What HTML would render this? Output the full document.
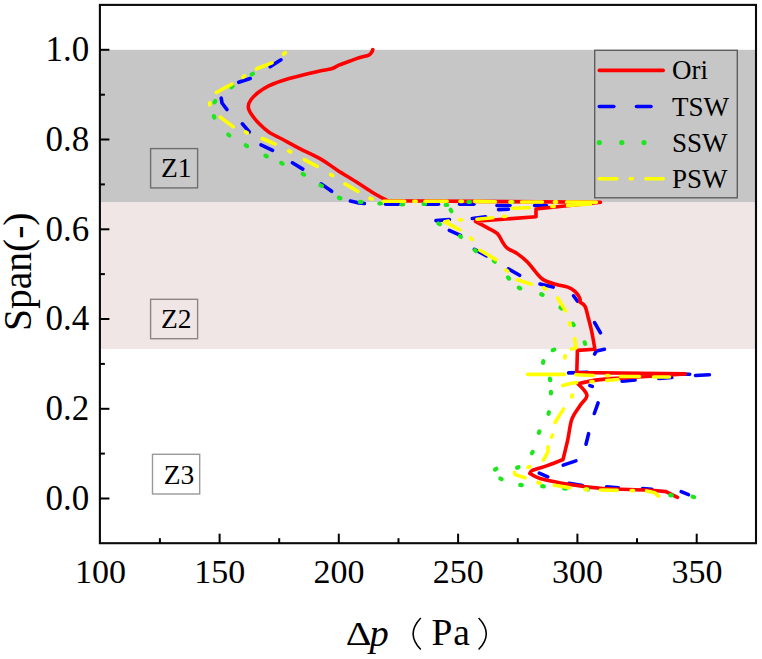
<!DOCTYPE html>
<html><head><meta charset="utf-8"><title>Chart</title>
<style>
html,body{margin:0;padding:0;background:#fff;}
body{width:762px;height:659px;overflow:hidden;font-family:"Liberation Serif",serif;}
svg{display:block}
.s{font-family:"Liberation Serif",serif;fill:#000}
</style></head><body>
<svg width="762" height="659" viewBox="0 0 762 659">
<rect width="762" height="659" fill="#fff"/>
<rect x="99.9" y="49.8" width="656.1" height="152.6" fill="#c6c6c6"/>
<rect x="99.9" y="202.4" width="656.1" height="146.7" fill="#efe6e5"/>
<rect x="150.6" y="148.6" width="47" height="39.3" fill="#c8c8c8" stroke="#6e6e6e" stroke-width="1.4"/>
<text x="161" y="177.3" font-size="27.5" class="s">Z1</text>
<rect x="150.6" y="299.3" width="47" height="39.4" fill="#efe6e5" stroke="#8f8585" stroke-width="1.4"/>
<text x="161" y="328" font-size="27.5" class="s">Z2</text>
<rect x="152.5" y="454.3" width="47.2" height="39.7" fill="#fff" stroke="#999" stroke-width="1.4"/>
<text x="163.8" y="483.8" font-size="27.5" class="s">Z3</text>
<g fill="none" stroke-width="3.6" stroke-linejoin="round" stroke-linecap="round">
<g stroke="#0000ff">
<polyline points="281.0,59.8 270.1,66.7"/>
<polyline points="250.2,78.5 238.7,82.3"/>
<polyline points="221.2,98.0 222.0,103.0 227.0,109.6"/>
<polyline points="242.3,123.8 249.3,131.9"/>
<polyline points="261.0,144.8 272.6,150.3"/>
<polyline points="292.4,162.8 302.8,169.1"/>
<polyline points="321.2,183.9 331.7,191.3"/>
<polyline points="350.4,201.1 357.0,202.6 364.4,203.5"/>
<polyline points="385.6,204.3 398.4,204.3"/>
<polyline points="424.6,204.3 438.4,204.3"/>
<polyline points="459.6,204.3 473.9,204.3"/>
<polyline points="497.0,205.5 510.0,205.5"/>
<polyline points="534.6,205.5 546.4,205.5"/>
<polyline points="508.4,209.3 498.6,209.6"/>
<polyline points="485.6,216.8 472.3,218.5"/>
<polyline points="449.4,219.5 436.0,220.6"/>
<polyline points="449.3,230.3 460.5,235.4"/>
<polyline points="474.4,249.3 486.6,255.8"/>
<polyline points="508.3,268.8 519.6,275.3"/>
<polyline points="540.0,284.1 553.2,287.1"/>
<polyline points="573.5,295.8 577.5,301.2"/>
<polyline points="594.6,322.6 600.5,332.8"/>
<polyline points="604.4,349.3 596.5,350.9 594.6,354.0"/>
<polyline points="568.6,372.9 587.6,372.4"/>
<polyline points="677.6,374.0 689.7,374.3"/>
<polyline points="695.5,375.5 709.4,374.8"/>
<polyline points="671.8,377.5 658.8,378.5"/>
<polyline points="635.1,380.0 622.1,381.2"/>
<polyline points="589.9,385.6 592.3,386.4"/>
<polyline points="598.1,402.9 594.3,413.5"/>
<polyline points="588.6,433.7 586.0,444.2"/>
<polyline points="575.9,460.9 563.2,465.1"/>
<polyline points="539.3,473.2 547.8,476.9"/>
<polyline points="568.9,483.3 582.4,485.5"/>
<polyline points="606.6,486.9 618.4,487.8"/>
<polyline points="642.6,488.6 651.8,489.2"/>
<polyline points="681.2,491.6 688.5,494.6"/>
</g>
<path d="M372.8,49.6 C372.8,49.6 372.1,51.6 371.5,52.5 C370.9,53.4 370.3,54.5 368.9,55.1 C366.8,56.0 362.2,56.7 359.0,57.7 C355.8,58.7 353.2,59.8 349.9,61.0 C346.6,62.2 342.5,63.6 339.4,64.9 C336.3,66.2 334.8,67.7 331.5,68.7 C328.2,69.7 324.4,69.9 319.7,70.9 C314.4,72.1 306.3,74.1 300.0,75.7 C293.7,77.3 287.1,79.0 281.9,80.7 C276.7,82.4 272.6,83.9 268.7,85.9 C264.8,87.9 261.2,90.2 258.2,92.5 C255.2,94.8 252.6,97.4 250.9,99.8 C249.2,102.2 248.2,104.4 248.3,106.9 C248.4,109.4 249.8,112.0 251.7,114.8 C253.6,117.6 256.7,121.2 259.5,124.0 C262.3,126.8 265.0,129.4 268.7,131.9 C272.4,134.4 276.6,136.2 281.9,139.0 C287.1,141.8 293.6,145.5 300.2,148.9 C306.8,152.3 315.1,155.9 321.2,159.4 C327.3,162.9 330.9,166.0 337.0,169.9 C343.1,173.8 351.4,178.8 358.0,183.0 C364.6,187.2 371.4,191.8 376.4,194.8 C380.9,197.5 388.0,200.8 388.0,200.8 C388.0,200.8 600.5,202.3 600.5,202.3 C600.5,202.3 536.0,209.0 536.0,209.0 C536.0,209.0 536.0,216.8 536.0,216.8 C536.0,216.8 475.4,221.3 475.4,221.3 C475.4,221.3 484.3,226.1 488.0,228.1 C491.7,230.1 495.0,231.4 497.4,233.6 C499.8,235.8 500.6,239.1 502.2,241.5 C503.8,243.9 504.4,245.8 506.9,247.8 C509.5,249.9 514.5,251.7 517.9,254.1 C521.3,256.5 524.5,259.1 527.4,262.0 C530.3,264.9 532.6,268.5 535.2,271.4 C537.8,274.3 539.8,277.5 543.2,279.6 C546.6,281.8 551.4,283.1 555.5,284.3 C559.6,285.6 564.6,286.0 567.8,287.1 C570.8,288.2 572.7,289.5 574.6,291.2 C576.5,292.9 578.5,295.5 579.4,297.3 C580.3,299.0 580.1,302.1 580.1,302.1 C580.1,302.1 583.7,304.0 584.9,306.2 C586.3,308.8 587.2,313.6 588.3,317.8 C589.4,322.0 590.6,326.3 591.7,331.5 C592.8,336.7 594.9,349.2 594.9,349.2 C594.9,349.2 577.4,350.4 577.4,350.4 C577.4,350.4 576.8,372.5 576.8,372.5 C576.8,372.5 685.3,373.9 685.3,373.9 C685.3,373.9 617.9,378.0 600.0,379.6 C591.1,380.4 578.0,383.8 578.0,383.8 C578.0,383.8 586.5,391.6 586.9,395.2 C587.2,398.8 582.6,401.5 580.1,405.5 C577.6,409.5 574.0,413.5 571.9,419.2 C569.8,424.9 569.3,432.9 567.8,439.6 C566.3,446.3 563.0,459.5 563.0,459.5 C563.0,459.5 552.4,463.8 547.3,465.6 C542.2,467.4 535.2,469.1 532.3,470.4 C530.8,471.1 529.8,473.5 529.8,473.5 C529.8,473.5 535.6,477.2 540.0,478.4 C547.0,480.3 561.0,483.0 571.5,484.7 C582.0,486.4 590.8,487.6 603.0,488.5 C615.2,489.4 634.5,489.5 645.0,490.0 C653.4,490.4 666.0,491.6 666.0,491.6 C666.0,491.6 677.5,497.3 677.5,497.3" stroke="#ff0000"/>
</g>
<g fill="none" stroke="#1ee61e" stroke-width="4.2" stroke-linecap="round">
<line x1="252.9" y1="73.7" x2="251.5" y2="74.5"/>
<line x1="232.6" y1="86.2" x2="231.4" y2="87.2"/>
<line x1="215.3" y1="101.0" x2="214.5" y2="102.4"/>
<line x1="213.8" y1="116.2" x2="214.4" y2="117.6"/>
<line x1="228.2" y1="134.5" x2="229.4" y2="135.5"/>
<line x1="245.7" y1="145.3" x2="247.1" y2="146.1"/>
<line x1="265.4" y1="155.6" x2="266.8" y2="156.4"/>
<line x1="281.2" y1="162.9" x2="282.6" y2="163.7"/>
<line x1="302.7" y1="173.9" x2="304.1" y2="174.7"/>
<line x1="320.5" y1="185.2" x2="321.9" y2="186.0"/>
<line x1="338.9" y1="197.7" x2="340.3" y2="198.3"/>
<line x1="359.8" y1="201.8" x2="361.4" y2="202.0"/>
<line x1="379.4" y1="203.5" x2="381.0" y2="203.5"/>
<line x1="401.5" y1="204.5" x2="403.1" y2="204.5"/>
<line x1="423.5" y1="204.0" x2="425.1" y2="204.0"/>
<line x1="445.6" y1="205.0" x2="447.2" y2="205.0"/>
<line x1="450.6" y1="209.8" x2="451.4" y2="211.2"/>
<line x1="468.4" y1="202.0" x2="470.0" y2="202.0"/>
<line x1="511.2" y1="202.0" x2="512.8" y2="202.0"/>
<line x1="438.5" y1="223.5" x2="439.9" y2="224.3"/>
<line x1="459.8" y1="236.0" x2="461.0" y2="237.0"/>
<line x1="474.8" y1="250.1" x2="476.0" y2="251.1"/>
<line x1="493.7" y1="260.7" x2="494.9" y2="261.7"/>
<line x1="508.0" y1="277.4" x2="509.0" y2="278.6"/>
<line x1="518.8" y1="287.6" x2="520.2" y2="288.4"/>
<line x1="541.2" y1="294.3" x2="542.6" y2="294.9"/>
<line x1="560.4" y1="307.4" x2="561.6" y2="308.6"/>
<line x1="572.8" y1="323.7" x2="573.8" y2="325.1"/>
<line x1="584.6" y1="342.3" x2="585.2" y2="343.9"/>
<line x1="554.3" y1="349.6" x2="552.7" y2="350.2"/>
<line x1="543.3" y1="361.2" x2="543.1" y2="362.8"/>
<line x1="549.8" y1="378.6" x2="550.2" y2="380.2"/>
<line x1="550.9" y1="391.8" x2="550.9" y2="393.4"/>
<line x1="548.9" y1="412.2" x2="548.5" y2="413.8"/>
<line x1="539.4" y1="431.4" x2="538.8" y2="432.8"/>
<line x1="532.7" y1="451.9" x2="531.9" y2="453.3"/>
<line x1="518.5" y1="467.1" x2="517.1" y2="467.7"/>
<line x1="496.4" y1="468.8" x2="495.0" y2="469.6"/>
<line x1="500.3" y1="478.5" x2="501.7" y2="479.3"/>
<line x1="520.2" y1="484.9" x2="521.8" y2="485.1"/>
<line x1="542.2" y1="486.2" x2="543.8" y2="486.4"/>
<line x1="564.2" y1="488.4" x2="565.8" y2="488.6"/>
<line x1="586.2" y1="489.2" x2="587.8" y2="489.4"/>
<line x1="670.2" y1="495.1" x2="671.8" y2="495.3"/>
<line x1="692.5" y1="496.6" x2="694.1" y2="497.2"/>
</g>
<g fill="none" stroke-width="3.6" stroke-linejoin="round" stroke-linecap="round" stroke="#ffff00">
<polyline points="272.0,62.9 256.6,68.8"/>
<polyline points="231.9,84.1 216.3,92.5"/>
<polyline points="220.2,117.1 233.3,126.9"/>
<polyline points="262.4,138.5 275.1,144.2"/>
<polyline points="304.3,159.6 317.2,166.4"/>
<polyline points="344.9,183.8 357.9,191.4"/>
<polyline points="383.4,201.3 404.6,201.3"/>
<polyline points="425.1,201.3 447.1,201.3"/>
<polyline points="474.6,201.4 495.4,201.8"/>
<polyline points="521.6,202.0 542.4,202.0"/>
<polyline points="566.6,202.0 596.4,202.3"/>
<polyline points="590.4,203.9 567.6,205.5"/>
<polyline points="529.4,207.7 512.3,208.3"/>
<polyline points="492.7,217.8 477.0,219.2"/>
<polyline points="448.4,221.1 444.7,221.8 459.8,229.8"/>
<polyline points="479.9,250.2 496.0,259.6"/>
<polyline points="517.1,279.8 531.5,284.3"/>
<polyline points="557.7,298.0 561.0,303.5 565.6,310.9"/>
<polyline points="574.8,338.5 576.0,347.9 571.4,349.1"/>
<polyline points="527.6,374.4 564.4,374.4"/>
<polyline points="575.6,374.7 593.4,375.5"/>
<polyline points="620.4,376.5 639.4,376.5"/>
<polyline points="653.6,377.0 669.4,377.0"/>
<polyline points="618.0,379.5 606.6,380.5"/>
<polyline points="576.6,382.5 570.0,383.5 562.7,385.6"/>
<polyline points="563.6,408.9 555.0,422.5"/>
<polyline points="548.0,446.7 548.0,451.9 543.3,460.1"/>
<polyline points="514.6,472.3 515.0,474.6 525.0,477.8"/>
<polyline points="554.2,485.2 569.9,487.7"/>
<polyline points="600.4,490.0 617.2,490.4"/>
<polyline points="646.6,490.9 654.5,492.7 658.5,496.2"/>
</g>
<g fill="none" stroke="#ffff00" stroke-width="3.8" stroke-linecap="round">
<line x1="283.7" y1="54.0" x2="285.3" y2="52.8"/>
<line x1="244.6" y1="76.1" x2="243.0" y2="77.3"/>
<line x1="209.7" y1="102.8" x2="209.7" y2="104.8"/>
<line x1="245.5" y1="131.9" x2="247.3" y2="132.9"/>
<line x1="288.8" y1="151.1" x2="290.6" y2="151.9"/>
<line x1="330.8" y1="174.6" x2="332.6" y2="175.6"/>
<line x1="370.1" y1="198.4" x2="372.1" y2="199.0"/>
<line x1="414.0" y1="201.3" x2="416.0" y2="201.3"/>
<line x1="460.2" y1="201.3" x2="462.2" y2="201.3"/>
<line x1="510.0" y1="202.0" x2="512.0" y2="202.0"/>
<line x1="554.5" y1="202.0" x2="556.5" y2="202.0"/>
<line x1="552.0" y1="206.4" x2="554.0" y2="206.4"/>
<line x1="503.5" y1="216.3" x2="505.5" y2="216.3"/>
<line x1="459.4" y1="219.8" x2="461.4" y2="219.8"/>
<line x1="470.8" y1="238.1" x2="472.2" y2="239.5"/>
<line x1="506.1" y1="270.0" x2="507.7" y2="271.2"/>
<line x1="543.8" y1="287.8" x2="545.4" y2="289.0"/>
<line x1="569.6" y1="323.0" x2="570.2" y2="325.0"/>
<line x1="565.2" y1="355.8" x2="564.8" y2="357.8"/>
<line x1="606.7" y1="375.6" x2="608.7" y2="375.6"/>
<line x1="591.0" y1="381.6" x2="593.0" y2="381.6"/>
<line x1="572.3" y1="395.1" x2="571.7" y2="396.9"/>
<line x1="552.6" y1="435.3" x2="551.6" y2="437.1"/>
<line x1="529.8" y1="466.7" x2="528.0" y2="467.3"/>
<line x1="538.1" y1="482.5" x2="539.9" y2="483.1"/>
<line x1="585.2" y1="489.5" x2="587.2" y2="489.5"/>
<line x1="631.4" y1="490.6" x2="633.4" y2="490.6"/>
</g>
<rect x="594.7" y="50.3" width="142.6" height="147.5" fill="#c6c6c6" stroke="#5e5e5e" stroke-width="1.4"/>
<g fill="none" stroke-width="3.6" stroke-linecap="round">
<line x1="599.3" y1="70.4" x2="663.2" y2="70.4" stroke="#ff0000"/>
<line x1="599.3" y1="106.5" x2="613.8" y2="106.5" stroke="#0000ff"/>
<line x1="636.5" y1="106.5" x2="651" y2="106.5" stroke="#0000ff"/>
<line x1="599.3" y1="178.7" x2="616.9" y2="178.7" stroke="#ffff00"/>
<line x1="630.3" y1="178.7" x2="632.4" y2="178.7" stroke="#ffff00"/>
<line x1="645.8" y1="178.7" x2="663.2" y2="178.7" stroke="#ffff00"/>
</g>
<circle cx="599.3" cy="142.6" r="2.6" fill="#1ee61e"/>
<circle cx="621.8" cy="142.6" r="2.6" fill="#1ee61e"/>
<circle cx="644" cy="142.6" r="2.6" fill="#1ee61e"/>
<text x="672" y="79.2" font-size="27" class="s">Ori</text>
<text x="672" y="116" font-size="27" class="s">TSW</text>
<text x="672" y="152.2" font-size="27" class="s">SSW</text>
<text x="672" y="188.3" font-size="27" class="s">PSW</text>
<rect x="99.9" y="4.9" width="656.1" height="538.3" fill="none" stroke="#0a0a0a" stroke-width="2.1"/>
<g stroke="#000" stroke-width="2">
<line x1="159.9" y1="543.2" x2="159.9" y2="538.2"/>
<line x1="219.6" y1="543.2" x2="219.6" y2="533.7"/>
<line x1="279.2" y1="543.2" x2="279.2" y2="538.2"/>
<line x1="338.8" y1="543.2" x2="338.8" y2="533.7"/>
<line x1="398.5" y1="543.2" x2="398.5" y2="538.2"/>
<line x1="458.1" y1="543.2" x2="458.1" y2="533.7"/>
<line x1="517.8" y1="543.2" x2="517.8" y2="538.2"/>
<line x1="577.4" y1="543.2" x2="577.4" y2="533.7"/>
<line x1="637.0" y1="543.2" x2="637.0" y2="538.2"/>
<line x1="696.7" y1="543.2" x2="696.7" y2="533.7"/>
<line x1="99.9" y1="498.5" x2="109.4" y2="498.5"/>
<line x1="99.9" y1="453.6" x2="104.9" y2="453.6"/>
<line x1="99.9" y1="408.8" x2="109.4" y2="408.8"/>
<line x1="99.9" y1="363.9" x2="104.9" y2="363.9"/>
<line x1="99.9" y1="319.0" x2="109.4" y2="319.0"/>
<line x1="99.9" y1="274.1" x2="104.9" y2="274.1"/>
<line x1="99.9" y1="229.3" x2="109.4" y2="229.3"/>
<line x1="99.9" y1="184.4" x2="104.9" y2="184.4"/>
<line x1="99.9" y1="139.5" x2="109.4" y2="139.5"/>
<line x1="99.9" y1="94.7" x2="104.9" y2="94.7"/>
<line x1="99.9" y1="49.8" x2="109.4" y2="49.8"/>
</g>
<text x="100.5" y="582.7" font-size="34" text-anchor="middle" class="s">100</text>
<text x="219.8" y="582.7" font-size="34" text-anchor="middle" class="s">150</text>
<text x="339.0" y="582.7" font-size="34" text-anchor="middle" class="s">200</text>
<text x="458.3" y="582.7" font-size="34" text-anchor="middle" class="s">250</text>
<text x="577.6" y="582.7" font-size="34" text-anchor="middle" class="s">300</text>
<text x="696.9" y="582.7" font-size="34" text-anchor="middle" class="s">350</text>
<text x="89.3" y="509.8" font-size="35" text-anchor="end" class="s">0.0</text>
<text x="89.3" y="420.1" font-size="35" text-anchor="end" class="s">0.2</text>
<text x="89.3" y="330.3" font-size="35" text-anchor="end" class="s">0.4</text>
<text x="89.3" y="240.6" font-size="35" text-anchor="end" class="s">0.6</text>
<text x="89.3" y="150.8" font-size="35" text-anchor="end" class="s">0.8</text>
<text x="89.3" y="61.1" font-size="35" text-anchor="end" class="s">1.0</text>
<text transform="translate(30.5,331) rotate(-90)" font-size="39.5" class="s">Span(-)</text>
<text transform="translate(345.8,645.4) scale(1.08,0.93)" font-size="37" class="s">Δ</text>
<text x="369.4" y="645.6" font-size="38.5" font-style="italic" class="s">p</text>
<text x="431.6" y="645.4" font-size="37.5" letter-spacing="0.8" class="s">Pa</text>
<path d="M420.8,618 Q405.5,633.8 420.8,649.6" fill="none" stroke="#000" stroke-width="1.5"/>
<path d="M478.6,618 Q493.9,633.8 478.6,649.6" fill="none" stroke="#000" stroke-width="1.5"/>
</svg>
</body></html>
